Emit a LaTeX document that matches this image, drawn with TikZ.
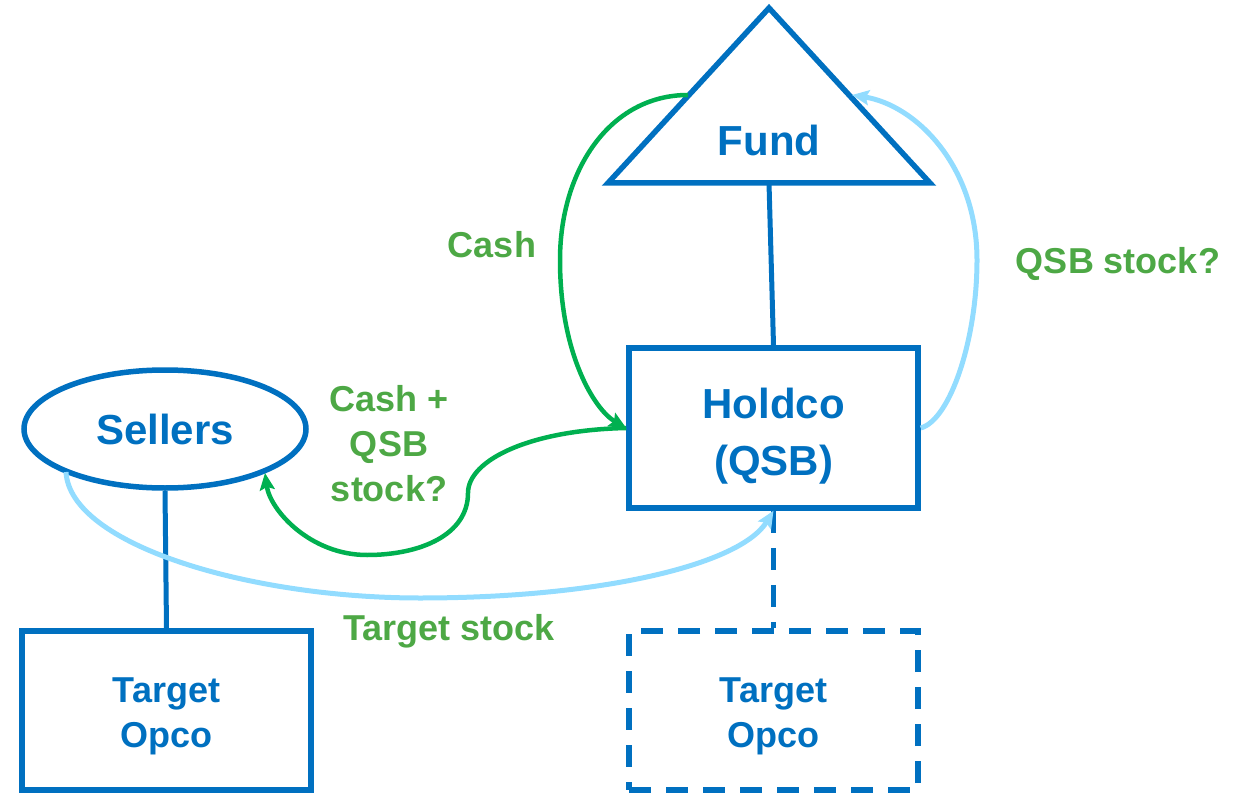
\documentclass[tikz,border=0pt]{standalone}
\usepackage{fontspec}
\setmainfont{Liberation Sans}
\usetikzlibrary{shapes.geometric,arrows.meta}
\definecolor{entblue}{HTML}{0070C0}
\definecolor{flowgreen}{HTML}{00B050}
\definecolor{labelgreen}{HTML}{4DA845}
\definecolor{stockblue}{HTML}{92DCFF}
\tikzset{
  entity/.style={draw=entblue, line width=5.5pt, text=entblue, font=\bfseries\fontsize{42}{57}\selectfont, align=center, inner sep=0pt},
  opcobox/.style={draw=entblue, line width=5.5pt, rectangle, minimum width=289pt, minimum height=159pt, inner sep=0pt},
  boxtext/.style={text=entblue, align=center, inner sep=0pt},
  tie/.style={draw=entblue, line width=5pt},
  cashflow/.style={draw=flowgreen, line width=4.5pt, -{Stealth[length=17pt,width=15pt,inset=3pt]}},
  stockflow/.style={draw=stockblue, line width=5pt, -{Stealth[length=17pt,width=15pt,inset=3pt]}},
  flowlabel/.style={text=labelgreen, font=\bfseries\fontsize{36}{45}\selectfont, align=center, inner sep=0pt},
}
\begin{document}
\begin{tikzpicture}[x=1pt, y=-1pt]
\useasboundingbox (0,0) rectangle (1239,794);

% Fund triangle
\coordinate (apex) at (769,8);
\coordinate (baseL) at (608,183);
\coordinate (baseR) at (930,183);
\coordinate (fundbase) at (769,183);
\coordinate (fundL) at (688,95);
\coordinate (fundR) at (852,95);
\draw[draw=entblue, line width=5.5pt, line join=miter] (apex) -- (baseL) -- (baseR) -- cycle;
\node[text=entblue, font=\bfseries\fontsize{42}{57}\selectfont] (fund) at (769,140) {Fund};

% Entities
\node[opcobox, minimum height=160pt] (holdco) at (773.5,428) {};
\node[boxtext, font=\bfseries\fontsize{42}{57}\selectfont] (holdcotext) at (773.5,436) {Holdco\\(QSB)};
\node[entity, ellipse, minimum width=282pt, minimum height=118pt] (sellers) at (165,429) {Sellers};
\node[opcobox] (opcoL) at (166.5,710.5) {};
\node[boxtext, font=\bfseries\fontsize{36}{45}\selectfont] (opcoLtext) at (166.5,716) {Target\\Opco};
\node[opcobox, dash pattern=on 22pt off 15pt] (opcoR) at (773.5,710.5) {};
\node[boxtext, font=\bfseries\fontsize{36}{45}\selectfont] (opcoRtext) at (773.5,716) {Target\\Opco};

% Ownership lines
\draw[tie] (fundbase) -- (holdco.north);
\draw[tie] (sellers.south) -- (opcoL.north);
\draw[tie, dash pattern=on 22pt off 15pt] (holdco.south) -- (opcoR.north);

% Flows
\coordinate (sellersSW) at (66,472);
\coordinate (sellersSE) at (265,473);
\draw[cashflow] (fundL) .. controls (610,95) and (560,170) .. (560,260)
  .. controls (560,355) and (595,410) .. (holdco.west);
\draw[stockflow] (holdco.east) .. controls (950,420) and (977,340) .. (977,260)
  .. controls (977,165) and (915,105) .. (fundR);
\draw[cashflow] (holdco.west) .. controls (530,430) and (468,460) .. (468,493)
  .. controls (468,535) and (420,555) .. (367,555)
  .. controls (310,555) and (270,510) .. (sellersSE);
\draw[stockflow] (sellersSW) .. controls (70,545) and (250,598) .. (420,598)
  .. controls (600,598) and (740,565) .. (holdco.south);

% Flow labels
\node[flowlabel] (lcash) at (492,245) {Cash};
\node[flowlabel] (lqsb) at (1118,264) {QSB stock?};
\node[flowlabel] (lmix) at (389,444) {Cash +\\QSB\\stock?};
\node[flowlabel] (ltarget) at (449,631) {Target stock};
\end{tikzpicture}
\end{document}
